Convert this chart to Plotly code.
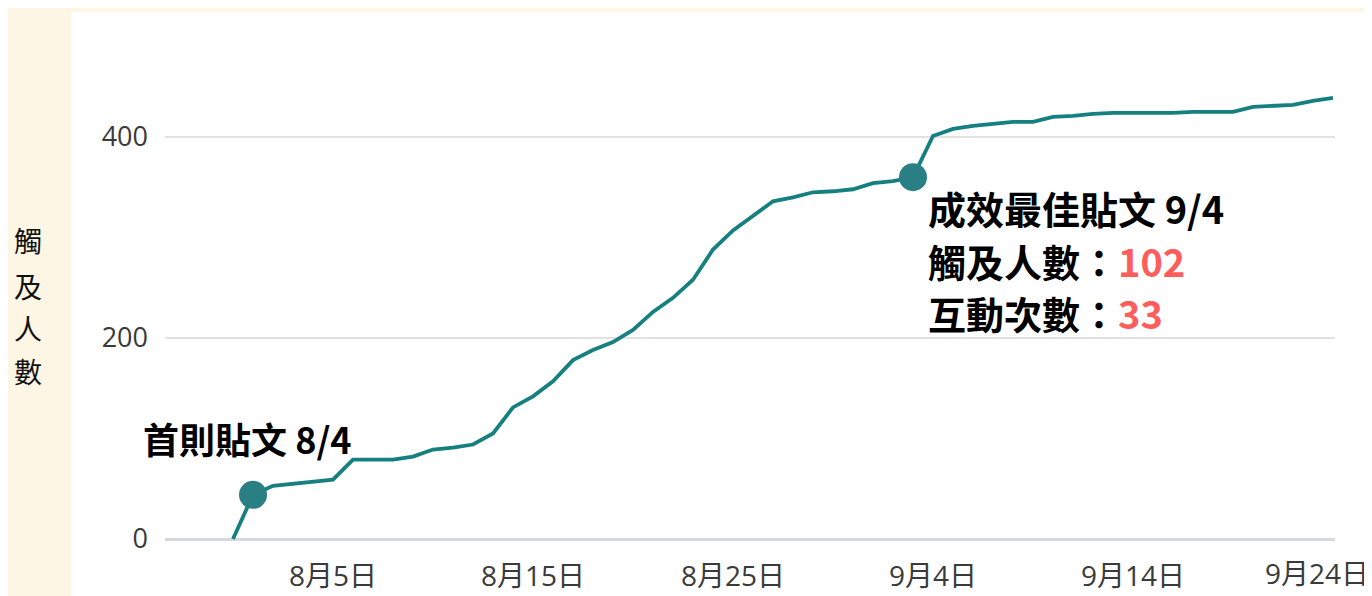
import plotly.graph_objects as go
import pandas as pd

# ---- data ----
start_date = "2024-07-31"
reach = [0, 44, 53, 55, 57, 59, 79, 79, 79, 82, 89, 91, 94, 105, 131, 142, 157, 178,
         188, 196, 208, 226, 240, 258, 288, 307, 322, 336, 340, 345, 346, 348, 354,
         356, 360, 401, 408, 411, 413, 415, 415, 420, 421, 423, 424, 424, 424, 424,
         425, 425, 425, 430, 431, 432, 436, 439]
dates = pd.date_range(start_date, periods=len(reach), freq="D")
highlight_idx = [1, 34]
tick_dates = ["2024-08-05", "2024-08-15", "2024-08-25", "2024-09-04", "2024-09-14"]
tick_text = ["8月5日", "8月15日", "8月25日", "9月4日", "9月14日"]
last_tick_text = "9月24日"   # last x label, kept inside the page edge
y_ticks = [0, 200, 400]
y_title_chars = ["觸", "及", "人", "數"]
note_first = "首則貼文 8/4"
note_best_title = "成效最佳貼文 9/4"
note_best_reach = ("觸及人數：", "102")
note_best_inter = ("互動次數：", "33")

LINE = "#168080"
MARK = "#2a7f85"
RED = "#ff5c5c"
CREAM = "#fdf6e4"
TICK_FONT = "Segoe UI, Open Sans, Noto Sans CJK TC"
TICK_COLOR = "#3a3a3a"
CJK = "Noto Sans CJK TC"

W, H = 1372, 596
OFF = 8                          # default body margin of the html page
L, R, T, B = 165, 1335, 12, 545  # plot area in page pixels
def px(x):
    return (x - L) / (R - L)
def py(y):
    return (B - y) / (B - T)

fig = go.Figure()
fig.add_trace(go.Scatter(x=dates, y=reach, mode="lines",
                         line=dict(color=LINE, width=3.8), hoverinfo="x+y",
                         showlegend=False))
fig.add_trace(go.Scatter(x=[dates[i] for i in highlight_idx],
                         y=[reach[i] for i in highlight_idx], mode="markers",
                         marker=dict(color=MARK, size=28), showlegend=False,
                         cliponaxis=False))

# white panel
fig.add_shape(type="rect", xref="paper", yref="paper",
              x0=px(71), x1=px(1400), y0=py(640), y1=py(12),
              fillcolor="white", line=dict(width=0), layer="below")

ann = []
for ch, yy in zip(y_title_chars, [240, 286, 328, 371]):
    ann.append(dict(text=ch, x=px(28), y=py(yy), xref="paper", yref="paper",
                    xanchor="center", yanchor="middle", showarrow=False,
                    font=dict(family=CJK, size=28, color="#111111")))
ann.append(dict(text="<b>%s</b>" % note_first, x=px(141), y=py(438),
                xref="paper", yref="paper", xanchor="left", yanchor="middle",
                showarrow=False, font=dict(family=CJK, size=36, color="black")))
ann.append(dict(text="<b>%s</b>" % note_best_title, x=px(926), y=py(207),
                xref="paper", yref="paper", xanchor="left", yanchor="middle",
                showarrow=False, font=dict(family=CJK, size=38, color="black")))
for (lab, val), yy in zip([note_best_reach, note_best_inter], [260, 313]):
    ann.append(dict(text="<b>%s<span style='color:%s'>%s</span></b>" % (lab, RED, val),
                    x=px(926), y=py(yy), xref="paper", yref="paper",
                    xanchor="left", yanchor="middle", showarrow=False,
                    font=dict(family=CJK, size=38, color="black")))
ann.append(dict(text=last_tick_text, x=px(1371), y=py(573),
                xref="paper", yref="paper", xanchor="right", yanchor="middle",
                showarrow=False,
                font=dict(family=TICK_FONT, size=28, color=TICK_COLOR)))

x0 = pd.Timestamp(start_date) + pd.Timedelta(days=(L - 233) / 20)
x1 = pd.Timestamp(start_date) + pd.Timedelta(days=(R - 233) / 20)
y_lo = (539 - B) / 1.005
y_hi = (539 - T) / 1.005

fig.update_layout(
    width=W, height=H,
    margin=dict(l=L - OFF, r=W - (R - OFF), t=T - OFF, b=H - (B - OFF)),
    paper_bgcolor=CREAM, plot_bgcolor="white",
    annotations=ann,
    xaxis=dict(range=[x0, x1], tickvals=tick_dates, ticktext=tick_text,
               showgrid=False, zeroline=False, showline=False,
               tickfont=dict(family=TICK_FONT, size=28, color=TICK_COLOR),
               ticks="", ticklabelstandoff=12),
    yaxis=dict(range=[y_lo, y_hi], tickvals=y_ticks, showgrid=True,
               gridcolor="#e2e2e2", gridwidth=2, zeroline=True,
               zerolinecolor="#d5d8dc", zerolinewidth=3, showline=False,
               tickfont=dict(family=TICK_FONT, size=27, color=TICK_COLOR),
               ticks="", ticklabelstandoff=16),
    hovermode="closest",
)

fig.write_html("out.html", config={"displayModeBar": False})
